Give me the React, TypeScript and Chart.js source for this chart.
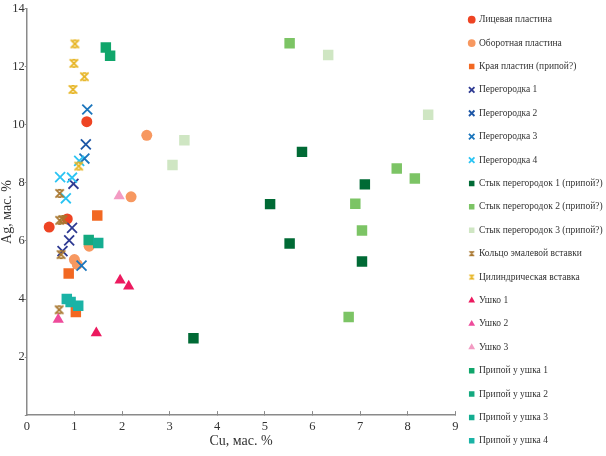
import { useEffect, useRef } from "react"
import { Chart, registerables } from "chart.js"

Chart.register(...registerables)

// [Cu, Ag] in mass %
type Pt = [number, number]

const seriesNames = [
  "Лицевая пластина",
  "Оборотная пластина",
  "Края пластин (припой?)",
  "Перегородка 1",
  "Перегородка 2",
  "Перегородка 3",
  "Перегородка 4",
  "Стык перегородок 1 (припой?)",
  "Стык перегородок 2 (припой?)",
  "Стык перегородок 3 (припой?)",
  "Кольцо эмалевой вставки",
  "Цилиндрическая вставка",
  "Ушко 1",
  "Ушко 2",
  "Ушко 3",
  "Припой у ушка 1",
  "Припой у ушка 2",
  "Припой у ушка 3",
  "Припой у ушка 4",
]

const licevaya: Pt[] = [[0.47, 6.48], [0.85, 6.76], [1.26, 10.11]]
const oborotnaya: Pt[] = [[2.52, 9.64], [2.19, 7.52], [1.0, 5.36], [1.06, 5.19], [1.31, 5.82]]
const kraya: Pt[] = [[1.48, 6.88], [0.88, 4.88], [1.03, 3.55]]
const peregorodka1: Pt[] = [[0.98, 7.97], [0.95, 6.45], [0.89, 6.02], [0.75, 5.65]]
const peregorodka2: Pt[] = [[1.24, 9.33]]
const peregorodka3: Pt[] = [[1.27, 10.53], [1.21, 8.84], [1.15, 5.15]]
const peregorodka4: Pt[] = [[1.1, 8.76], [0.7, 8.2], [0.95, 8.18], [0.82, 7.47]]
const styk1: Pt[] = [[5.78, 9.07], [7.1, 7.95], [5.11, 7.27], [5.52, 5.91], [7.04, 5.29], [3.5, 2.65]]
const styk2: Pt[] = [[5.52, 12.81], [7.77, 8.5], [8.15, 8.15], [6.9, 7.28], [7.04, 6.36], [6.76, 3.38]]
const styk3: Pt[] = [[6.33, 12.41], [8.43, 10.35], [3.31, 9.47], [3.06, 8.62]]
const kolco: Pt[] = [[0.69, 7.64], [0.69, 6.71], [0.76, 6.74], [0.72, 5.53], [0.68, 3.63]]
const cilindr: Pt[] = [[1.01, 12.79], [0.99, 12.12], [1.21, 11.66], [0.97, 11.22], [1.09, 8.58]]
const ushko1: Pt[] = [[1.96, 4.65], [2.14, 4.44], [1.46, 2.83]]
const ushko2: Pt[] = [[0.66, 3.29]]
const ushko3: Pt[] = [[1.94, 7.55]]
const pripoy1: Pt[] = [[1.66, 12.67], [1.75, 12.38]]
const pripoy2: Pt[] = [[1.3, 6.03]]
const pripoy3: Pt[] = [[1.5, 5.93]]
const pripoy4: Pt[] = [[0.84, 4.0], [0.92, 3.9], [1.08, 3.77]]

const seriesData: Pt[][] = [
  licevaya, oborotnaya, kraya,
  peregorodka1, peregorodka2, peregorodka3, peregorodka4,
  styk1, styk2, styk3,
  kolco, cilindr,
  ushko1, ushko2, ushko3,
  pripoy1, pripoy2, pripoy3, pripoy4,
]

const markers = [
  { color: "#ee4423", shape: "circle" },
  { color: "#f79860", shape: "circle" },
  { color: "#f26822", shape: "rect" },
  { color: "#2e3a92", shape: "crossRot" },
  { color: "#1d56a6", shape: "crossRot" },
  { color: "#1b75bc", shape: "crossRot" },
  { color: "#2bc4f3", shape: "crossRot" },
  { color: "#006a35", shape: "rect" },
  { color: "#7cc465", shape: "rect" },
  { color: "#cfe6c3", shape: "rect" },
  { color: "#a8762e", shape: "asterisk" },
  { color: "#e6b422", shape: "asterisk" },
  { color: "#ec1a5f", shape: "triangle" },
  { color: "#ee4b9b", shape: "triangle" },
  { color: "#f39bc3", shape: "triangle" },
  { color: "#10a66b", shape: "rect" },
  { color: "#13a97f", shape: "rect" },
  { color: "#14ad91", shape: "rect" },
  { color: "#1ab3a6", shape: "rect" },
]

const serif = "'Liberation Serif', 'DejaVu Serif', serif"
const textColor = "#333"
const axisColor = "#8a8a8a"

// X with short bars on top and bottom
function asterisk(color: string, size: number, lw: number) {
  const c = document.createElement("canvas")
  c.width = size
  c.height = size
  const ctx = c.getContext("2d")
  if (!ctx) return c
  const m = lw / 2 + 0.5
  ctx.strokeStyle = color
  ctx.lineWidth = lw
  ctx.beginPath()
  ctx.moveTo(m, m)
  ctx.lineTo(size - m, size - m)
  ctx.moveTo(size - m, m)
  ctx.lineTo(m, size - m)
  ctx.moveTo(size * 0.32, m + 0.5)
  ctx.lineTo(size * 0.68, m + 0.5)
  ctx.moveTo(size * 0.32, size - m - 0.5)
  ctx.lineTo(size * 0.68, size - m - 0.5)
  ctx.stroke()
  return c
}

function pointOptions(shape: string, color: string) {
  switch (shape) {
    case "circle":
      return { pointStyle: "circle", pointRadius: 5.5, borderWidth: 0 }
    case "rect":
      return { pointStyle: "rect", pointRadius: 7.4, borderWidth: 0 }
    case "triangle":
      return { pointStyle: "triangle", pointRadius: 6.5, borderWidth: 0 }
    case "crossRot":
      return { pointStyle: "crossRot", pointRadius: 7, borderWidth: 1.8 }
    default:
      return { pointStyle: asterisk(color, 11, 1.7), pointRadius: 6, borderWidth: 1.6 }
  }
}

export default function App() {
  const chartRef = useRef<HTMLCanvasElement>(null)
  const chartInstance = useRef<Chart | null>(null)

  useEffect(() => {
    document.body.style.margin = "0"
    if (!chartRef.current) return
    if (chartInstance.current) chartInstance.current.destroy()

    const ctx = chartRef.current.getContext("2d")
    if (!ctx) return

    const n = seriesNames.length
    const datasets = seriesNames.map((name, i) => {
      const m = markers[i]
      const p = pointOptions(m.shape, m.color)
      return {
        label: name,
        data: seriesData[i].map(([x, y]) => ({ x, y })),
        backgroundColor: m.color,
        borderColor: m.color,
        borderWidth: p.borderWidth,
        pointStyle: p.pointStyle,
        pointRadius: p.pointRadius,
        pointHoverRadius: p.pointRadius,
        // later series painted on top
        order: n - i,
      }
    })

    chartInstance.current = new Chart(ctx, {
      type: "scatter",
      data: { datasets: datasets as any },
      options: {
        responsive: true,
        maintainAspectRatio: false,
        animation: false,
        events: [],
        layout: { padding: { top: 1, left: 0, right: 0, bottom: 0 } },
        scales: {
          x: {
            type: "linear",
            min: 0,
            max: 9,
            ticks: {
              stepSize: 1,
              padding: 8,
              color: textColor,
              font: { family: serif, size: 12.5 },
            },
            grid: { drawOnChartArea: false, tickLength: -4, color: axisColor },
            border: { color: axisColor, width: 1.5 },
            title: {
              display: true,
              text: "Cu, мас. %",
              color: textColor,
              font: { family: serif, size: 14 },
              padding: { top: -9.5, bottom: 30.6 },
            },
          },
          y: {
            type: "linear",
            min: 0,
            max: 14,
            ticks: {
              stepSize: 2,
              padding: 0,
              color: textColor,
              font: { family: serif, size: 12.5 },
              callback: (v) => (v === 0 ? "" : v),
            },
            grid: { drawOnChartArea: false, tickLength: 2, color: axisColor },
            border: { color: axisColor, width: 1.5 },
            title: {
              display: true,
              text: "Ag, мас. %",
              color: textColor,
              font: { family: serif, size: 14, lineHeight: 0.9 },
              padding: { top: 0.7, bottom: -1 },
            },
          },
        },
        plugins: {
          tooltip: { enabled: false },
          legend: {
            position: "right",
            align: "start",
            maxWidth: 150.7,
            labels: {
              usePointStyle: true,
              boxWidth: 5,
              boxHeight: 5.5,
              padding: 13.9,
              color: textColor,
              font: { family: serif, size: 9.5 },
              sort: (a, b) => (a.datasetIndex ?? 0) - (b.datasetIndex ?? 0),
              generateLabels: (chart) =>
                Chart.defaults.plugins.legend.labels.generateLabels(chart).map((item) => {
                  const m = markers[item.datasetIndex ?? 0]
                  if (m.shape === "asterisk") item.pointStyle = asterisk(m.color, 7, 1.2) as any
                  return item
                }),
            },
          },
        },
      },
    })

    return () => {
      if (chartInstance.current) {
        chartInstance.current.destroy()
        chartInstance.current = null
      }
    }
  }, [])

  return (
    <div style={{ width: 606, height: 456, overflow: "hidden" }}>
      <div style={{ position: "relative", width: 606, height: 480 }}>
        <canvas ref={chartRef} />
      </div>
    </div>
  )
}
